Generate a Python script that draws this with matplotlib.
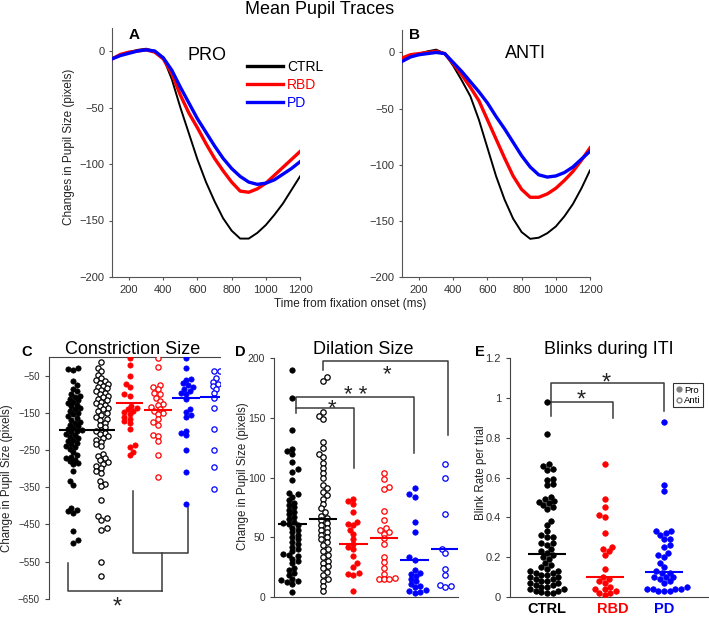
import matplotlib
matplotlib.use("Agg")
import matplotlib.pyplot as plt
import numpy as np
from matplotlib.lines import Line2D

plt.rcParams["font.family"] = ["Liberation Sans", "DejaVu Sans"]

# ---------------------------------------------------------------------
#  Data
# ---------------------------------------------------------------------
TIME_MS = [100, 150, 200, 250, 300, 350, 400, 450, 500, 550, 600, 650,
           700, 750, 800, 850, 900, 950, 1000, 1050, 1100, 1150, 1200]

PRO_CTRL = [-7, -3, -1, 1, 2, 0, -6, -25, -50, -73, -96, -116,
            -133, -148, -159, -166, -166, -161, -154, -145, -135, -123, -111]
PRO_RBD = [-7, -3, -1, 0, 1, -1, -7, -20, -39, -55, -68, -82,
           -95, -106, -116, -124, -125, -122, -117, -110, -103, -96, -89]
PRO_PD = [-7, -4, -2, 0, 1, 0, -6, -17, -32, -46, -60, -72,
          -84, -95, -104, -111, -116, -118, -117, -114, -109, -104, -98]

ANTI_CTRL = [-6, -3, -1, 1, 2.5, -1, -12, -25, -39, -60, -85, -110,
             -131, -148, -160, -166, -165, -161, -155, -146, -135, -121, -105]
ANTI_RBD = [-5, -2, -1, 0, 1, -1, -10, -20, -31, -43, -60, -77,
            -94, -110, -122, -129, -129, -126, -121, -114, -106, -96, -85]
ANTI_PD = [-8, -4, -2, -1, 0, -1, -9, -17, -26, -35, -45, -57,
           -68, -80, -92, -102, -109, -111, -110, -107, -102, -95, -88]

GROUPS = ["CTRL", "RBD", "PD"]
COLORS = ["black", "#ff0000", "#0000ff"]

# Constriction size (pixels), order: CTRL pro, CTRL anti, RBD pro, RBD anti, PD pro, PD anti
CON_CTRL_PRO = [-30, -32, -35, -64, -75, -85, -92, -98, -103, -108, -112, -116,
                -120, -124, -128, -132, -136, -140, -145, -150, -154, -158, -163,
                -168, -173, -178, -182, -186, -190, -193, -196,
                -198, -202, -206, -210, -214, -218, -222, -226, -230, -234, -238,
                -242, -248, -255, -262, -268, -272, -276, -280, -284, -288, -307,
                -334, -343, -406, -410, -414, -420, -467, -493, -499]
CON_CTRL_ANTI = [-12, -28, -38, -48, -55, -60, -64, -68, -72, -76, -80, -84, -88,
                 -92, -96, -100, -104, -108, -112, -116, -120, -124, -128, -132,
                 -136, -140, -145, -150, -155, -160, -165, -170, -176, -182, -188,
                 -195, -199, -203, -207, -212, -217, -222, -228, -234, -240, -260,
                 -266, -272, -277, -282, -287, -292, -298, -307, -311, -334, -340,
                 -347, -383, -428, -432, -437, -460, -465, -552, -590]
CON_RBD_PRO = [-3, -22, -50, -73, -80, -98, -103, -130, -137, -140, -144, -148,
               -152, -160, -165, -172, -178, -192, -236, -242, -255, -262]
CON_RBD_ANTI = [-3, -27, -75, -80, -86, -95, -100, -109, -118, -125, -129, -135,
                -140, -145, -150, -154, -167, -175, -181, -208, -212, -226, -262, -322]
CON_PD_PRO = [-3, -30, -58, -62, -70, -75, -80, -85, -90, -95, -100, -112, -140,
              -148, -155, -160, -198, -204, -210, -250, -308, -395]
CON_PD_ANTI = [-36, -38, -57, -66, -72, -78, -86, -97, -110, -137, -193, -250,
               -296, -355]
CON_MEDIANS = [-197, -197, -124, -142, -109, -106]

# Dilation size (pixels)
DIL_CTRL_PRO = [190, 167, 140, 124, 122, 120, 113, 107, 105, 98, 87, 86, 84, 81,
                79, 77, 75, 73, 71, 69, 67, 65, 63, 62, 61, 60, 58, 56, 54, 52,
                50, 48, 46, 44, 42, 40, 38, 36, 35, 34, 32, 30, 28, 24, 22, 20,
                18, 15, 14, 13, 12, 11, 4]
DIL_CTRL_ANTI = [184, 181, 155, 152, 149, 130, 125, 120, 117, 112, 108, 104, 100,
                 94, 91, 88, 85, 82, 78, 74, 71, 68, 66, 64, 62, 60, 58, 56, 54,
                 52, 50, 48, 46, 43, 40, 38, 35, 33, 30, 28, 26, 24, 21, 18, 15,
                 13, 9, 5]
DIL_RBD_PRO = [82, 80, 78, 71, 63, 61, 60, 56, 53, 48, 44, 42, 40, 34, 28, 25,
               20, 19, 18, 5]
DIL_RBD_ANTI = [104, 99, 92, 90, 72, 64, 58, 56, 54, 53, 49, 44, 33, 29, 24, 19,
                16, 15, 15, 15]
DIL_PD_PRO = [91, 86, 84, 63, 54, 33, 31, 22, 20, 19, 17, 15, 13, 11, 9, 8, 6,
              5, 4, 3]
DIL_PD_ANTI = [111, 100, 69, 40, 37, 23, 18, 10, 9, 8]
DIL_MEDIANS = [61, 65, 44, 49, 31, 40]

# Blink rate per trial during ITI (pro only)
BLINK_CTRL = [0.98, 0.82, 0.67, 0.66, 0.645, 0.64, 0.59, 0.585, 0.565, 0.56, 0.50,
              0.49, 0.48, 0.475, 0.47, 0.46, 0.45, 0.44, 0.38, 0.36, 0.33, 0.31,
              0.30, 0.30, 0.27, 0.27, 0.26, 0.24, 0.23, 0.22, 0.21, 0.20, 0.19,
              0.17, 0.16, 0.15, 0.14, 0.13, 0.13, 0.12, 0.12, 0.11, 0.11, 0.10,
              0.10, 0.09, 0.09, 0.08, 0.08, 0.07, 0.07, 0.06, 0.06, 0.05, 0.05,
              0.04, 0.04, 0.03, 0.03, 0.02, 0.02, 0.025]
BLINK_RBD = [0.67, 0.49, 0.45, 0.41, 0.40, 0.32, 0.25, 0.24, 0.23, 0.21, 0.14,
             0.10, 0.09, 0.08, 0.07, 0.05, 0.04, 0.04, 0.03, 0.02, 0.02, 0.01]
BLINK_PD = [0.88, 0.56, 0.53, 0.33, 0.33, 0.32, 0.31, 0.29, 0.29, 0.26, 0.25,
            0.22, 0.21, 0.20, 0.17, 0.15, 0.13, 0.12, 0.12, 0.10, 0.10, 0.10,
            0.09, 0.08, 0.07, 0.05, 0.04, 0.04, 0.04, 0.04, 0.03, 0.03, 0.03]
BLINK_MEDIANS = [0.216, 0.097, 0.122]

W, H = 709, 617
BRACKET = "#3a3a3a"


def px_axes(fig, left, top, right, bottom):
    # axes box given in pixels of the 709x617 canvas
    return fig.add_axes([left / W, 1 - bottom / H, (right - left) / W, (bottom - top) / H])


def ftext(fig, x, y, s, **kw):
    return fig.text(x / W, 1 - y / H, s, **kw)


def swarm_x(ax, center, values, diam_px):
    """Beeswarm layout: push each point sideways until it stops overlapping."""
    vals = np.asarray(values, float)
    disp = ax.transData.transform(np.column_stack([np.full(vals.size, center), vals]))
    x0 = disp[0, 0]
    ys = disp[:, 1]
    xs = np.full(vals.size, x0)
    placed = []
    step = diam_px * 0.35
    min_d2 = (0.85 * diam_px) ** 2
    for n, i in enumerate(np.argsort(ys)):
        found = False
        for k in range(80):
            offs = [0.0] if k == 0 else ([k * step, -k * step] if n % 2 else [-k * step, k * step])
            for off in offs:
                cx = x0 + off
                if all((cx - px) ** 2 + (ys[i] - py) ** 2 >= min_d2 for px, py in placed):
                    xs[i] = cx
                    placed.append((cx, ys[i]))
                    found = True
                    break
            if found:
                break
    return ax.transData.inverted().transform(np.column_stack([xs, ys]))[:, 0]


def draw_group(ax, pos, values, color, filled, ms, diam_px):
    xs = swarm_x(ax, pos, values, diam_px)
    if filled:
        ax.plot(xs, values, "o", ls="", ms=ms, mfc=color, mec=color, mew=0.5, zorder=3)
    else:
        ax.plot(xs, values, "o", ls="", ms=ms, mfc="white", mec=color, mew=0.9, zorder=3)


def bracket(ax, xs, ys):
    ax.plot(xs, ys, color=BRACKET, lw=1.1, clip_on=False, zorder=2)


def star(ax, x, y, s="*", size=17):
    # asterisk glyph sits high in the em box: drop the baseline so its middle lands on y
    ax.annotate(s, (x, y), xytext=(0, -0.55 * size), textcoords="offset points",
                ha="center", va="baseline", fontsize=size, color="#222222",
                annotation_clip=False)


def plot_trace(ax, ctrl, rbd, pd):
    ax.plot(TIME_MS, ctrl, color="black", lw=1.4, zorder=3)
    ax.plot(TIME_MS, rbd, color=COLORS[1], lw=2.4, zorder=4)
    ax.plot(TIME_MS, pd, color=COLORS[2], lw=2.4, zorder=5)
    ax.set_xlim(100, 1200)
    ax.set_ylim(-200, 20)
    ax.set_xticks([200, 400, 600, 800, 1000, 1200])
    ax.set_yticks([0, -50, -100, -150, -200])
    ax.spines[["top", "right"]].set_visible(False)
    for sp in ax.spines.values():
        sp.set_color("#555555")
    ax.tick_params(labelsize=8, length=2, color="#555555", labelcolor="#333333")


def main():
    fig = plt.figure(figsize=(W / 100, H / 100), dpi=100)

    # ---- A / B: mean pupil traces --------------------------------------
    ax_a = px_axes(fig, 112, 28.4, 300, 277)
    plot_trace(ax_a, PRO_CTRL, PRO_RBD, PRO_PD)
    ax_b = px_axes(fig, 402, 30, 590, 277)
    plot_trace(ax_b, ANTI_CTRL, ANTI_RBD, ANTI_PD)

    handles = [Line2D([], [], color=c, lw=2.4) for c in COLORS]
    fig.legend(handles, GROUPS, loc="upper left", bbox_to_anchor=(247 / W, 1 - 60 / H),
               frameon=False, fontsize=10, handlelength=2.6, handletextpad=0.3,
               labelspacing=0.3, borderpad=0, borderaxespad=0, labelcolor=COLORS)

    ftext(fig, 320, 14, "Mean Pupil Traces", ha="center", va="baseline", fontsize=13)
    ftext(fig, 350, 304, "Time from fixation onset (ms)", ha="center", va="center",
          fontsize=8.5, color="#222222")
    ftext(fig, 69, 147, "Changes in Pupil Size (pixels)", ha="center", va="center",
          rotation=90, fontsize=8.5, color="#222222")
    ftext(fig, 207, 56, "PRO", ha="center", va="center", fontsize=13)
    ftext(fig, 525, 53, "ANTI", ha="center", va="center", fontsize=13)
    ftext(fig, 134, 35, "A", ha="center", va="center", fontsize=11, fontweight="bold")
    ftext(fig, 415, 35, "B", ha="center", va="center", fontsize=11, fontweight="bold")

    # ---- C: constriction size -----------------------------------------
    ax_c = px_axes(fig, 49, 357.3, 220, 598.7)
    ax_c.set_xlim(0.15, 6.2)
    ax_c.set_ylim(-650, 0)
    con_sets = [CON_CTRL_PRO, CON_CTRL_ANTI, CON_RBD_PRO, CON_RBD_ANTI,
                CON_PD_PRO, CON_PD_ANTI]
    for i, vals in enumerate(con_sets):
        color = COLORS[i // 2]
        draw_group(ax_c, i + 1, vals, color, i % 2 == 0, 3.8, 5.0)
        ax_c.hlines(CON_MEDIANS[i], i + 1 - 0.49, i + 1 + 0.49, color=color, lw=1.5, zorder=4)
    ax_c.set_yticks(list(range(-50, -651, -100)))
    ax_c.set_xticks([])
    ax_c.spines[["bottom", "right"]].set_visible(False)
    for sp in ax_c.spines.values():
        sp.set_color("#444444")
    ax_c.tick_params(labelsize=7, length=3, color="#444444", labelcolor="#333333")
    bracket(ax_c, [3.12, 3.12, 5.08, 5.08], [-359, -526, -526, -404])
    bracket(ax_c, [4.15, 4.15], [-526, -629])
    bracket(ax_c, [0.83, 0.83, 4.15], [-555, -629, -629])
    star(ax_c, 2.57, -655)

    # ---- D: dilation size ---------------------------------------------
    ax_d = px_axes(fig, 274.3, 358.3, 458, 596.7)
    ax_d.set_xlim(0.41, 6.42)
    ax_d.set_ylim(0, 200)
    dil_sets = [DIL_CTRL_PRO, DIL_CTRL_ANTI, DIL_RBD_PRO, DIL_RBD_ANTI,
                DIL_PD_PRO, DIL_PD_ANTI]
    for i, vals in enumerate(dil_sets):
        color = COLORS[i // 2]
        draw_group(ax_d, i + 1, vals, color, i % 2 == 0, 3.9, 5.2)
        ax_d.hlines(DIL_MEDIANS[i], i + 1 - 0.47, i + 1 + 0.47, color=color, lw=1.5, zorder=4)
    ax_d.set_yticks([0, 50, 100, 150, 200])
    ax_d.set_xticks([])
    ax_d.spines[["top", "right"]].set_visible(False)
    for sp in ax_d.spines.values():
        sp.set_color("#444444")
    ax_d.tick_params(labelsize=7.5, length=3, color="#444444", labelcolor="#333333")
    bracket(ax_d, [1.13, 1.13, 3.03, 3.03], [154, 158.3, 158.3, 108])
    bracket(ax_d, [1.13, 1.13, 4.99, 4.99], [158.3, 167.2, 167.2, 120.4])
    bracket(ax_d, [2.0, 2.0, 6.08, 6.08], [190, 198, 198, 136])
    star(ax_d, 2.30, 163, size=16)
    star(ax_d, 3.06, 174.4, "* *", size=16)
    star(ax_d, 4.11, 192, size=16)

    # ---- E: blinks during ITI -----------------------------------------
    ax_e = px_axes(fig, 510, 358.3, 709, 596.7)
    ax_e.set_xlim(0.37, 3.77)
    ax_e.set_ylim(0, 1.2)
    positions = [1, 1.99, 3]
    for i, vals in enumerate([BLINK_CTRL, BLINK_RBD, BLINK_PD]):
        draw_group(ax_e, positions[i], vals, COLORS[i], True, 4.0, 5.4)
        ax_e.hlines(BLINK_MEDIANS[i], positions[i] - 0.32, positions[i] + 0.32,
                    color=COLORS[i], lw=1.5, zorder=4)
    yt = [0, 0.2, 0.4, 0.6, 0.8, 1.0, 1.2]
    ax_e.set_yticks(yt)
    ax_e.set_yticklabels(["0", "0.2", "0.4", "0.6", "0.8", "1", "1.2"])
    ax_e.set_xticks([1, 2.13, 3])
    ax_e.set_xticklabels(GROUPS, fontsize=10.5, fontweight="bold")
    for lab, c in zip(ax_e.get_xticklabels(), COLORS):
        lab.set_color(c)
    ax_e.spines[["top", "right"]].set_visible(False)
    for sp in ax_e.spines.values():
        sp.set_color("#444444")
    ax_e.tick_params(axis="y", labelsize=8, length=3, color="#444444", labelcolor="#333333")
    ax_e.tick_params(axis="x", length=0, pad=4)
    bracket(ax_e, [1.07, 1.07, 3.0, 3.0], [0.91, 1.074, 1.074, 0.937])
    bracket(ax_e, [1.07, 2.13, 2.13], [0.982, 0.982, 0.898])
    star(ax_e, 2.02, 1.108)
    star(ax_e, 1.58, 1.024)
    leg_handles = [
        Line2D([], [], marker="o", ls="", ms=3.5, mfc="gray", mec="gray"),
        Line2D([], [], marker="o", ls="", ms=3.5, mfc="white", mec="gray"),
    ]
    leg = ax_e.legend(leg_handles, ["Pro", "Anti"], loc="upper right",
                      bbox_to_anchor=(0.995, 0.915), fontsize=6.8, handlelength=0.7,
                      handletextpad=0.25, labelspacing=0.15, borderpad=0.25,
                      fancybox=False, edgecolor="black")
    leg.get_frame().set_linewidth(0.8)

    # ---- titles, letters, y labels for bottom row ---------------------
    ftext(fig, 133, 349, "Constriction Size", ha="center", va="center", fontsize=13)
    ftext(fig, 363, 349, "Dilation Size", ha="center", va="center", fontsize=13)
    ftext(fig, 609, 349, "Blinks during ITI", ha="center", va="center", fontsize=13)
    ftext(fig, 27, 352, "C", ha="center", va="center", fontsize=10.5, fontweight="bold")
    ftext(fig, 240, 352, "D", ha="center", va="center", fontsize=10.5, fontweight="bold")
    ftext(fig, 480, 352, "E", ha="center", va="center", fontsize=10.5, fontweight="bold")
    ftext(fig, 7, 478, "Change in Pupil Size (pixels)", ha="center", va="center",
          rotation=90, fontsize=8.3, color="#222222")
    ftext(fig, 243, 476, "Change in Pupil Size (pixels)", ha="center", va="center",
          rotation=90, fontsize=8.3, color="#222222")
    ftext(fig, 481, 473, "Blink Rate per trial", ha="center", va="center",
          rotation=90, fontsize=8.3, color="#222222")

    fig.savefig("out.png", dpi=100)
    plt.close(fig)


if __name__ == "__main__":
    main()
